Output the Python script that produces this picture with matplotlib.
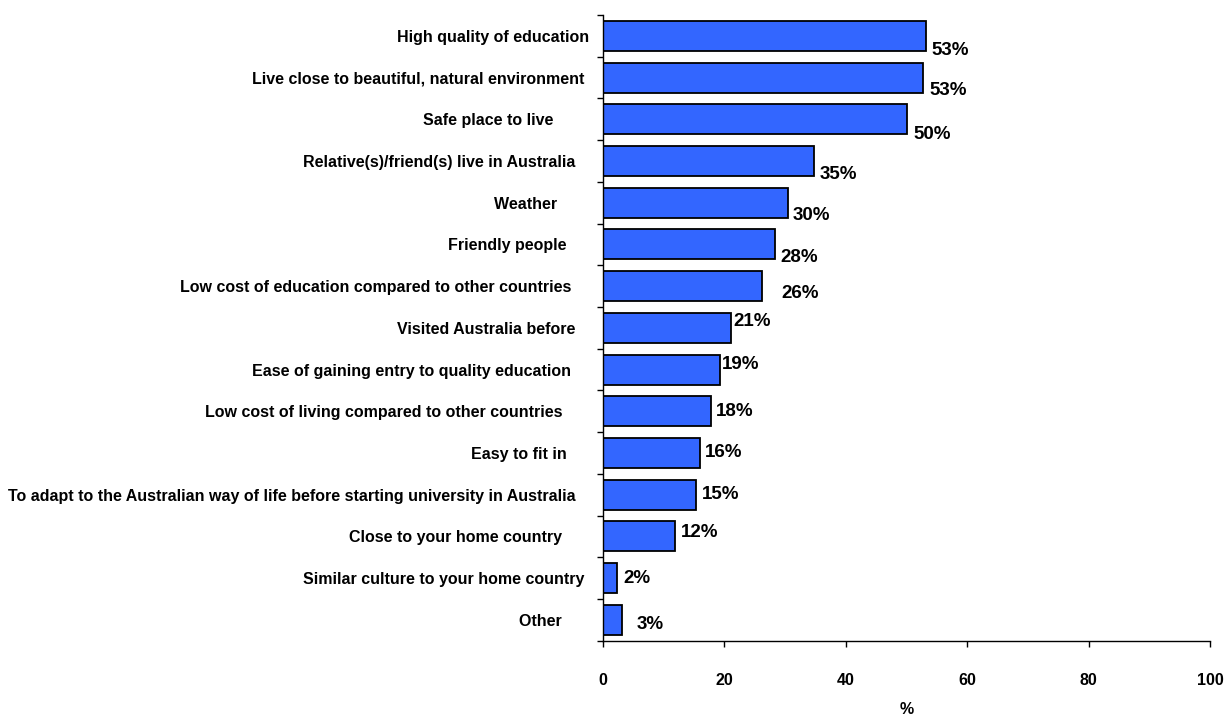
import matplotlib.pyplot as plt
import numpy as np

plt.rcParams['font.family'] = ['Liberation Sans', 'DejaVu Sans']
plt.rcParams['font.weight'] = 'bold'

# Reasons for choosing Australia (% of respondents)
# (trailing blanks kept as they came from the spreadsheet)
reasons = [
    'High quality of education',
    'Live close to beautiful, natural environment ',
    'Safe place to live        ',
    'Relative(s)/friend(s) live in Australia   ',
    'Weather       ',
    'Friendly people     ',
    'Low cost of education compared to other countries    ',
    'Visited Australia before   ',
    'Ease of gaining entry to quality education    ',
    'Low cost of living compared to other countries      ',
    'Easy to fit in     ',
    'To adapt to the Australian way of life before starting university in Australia   ',
    'Close to your home country      ',
    'Similar culture to your home country ',
    'Other      ',
]
pct = [53.2, 52.8, 50.1, 34.8, 30.4, 28.4, 26.2, 21.1, 19.2, 17.8, 15.9, 15.4, 11.8, 2.3, 3.2]

# hand placement of the value labels (points, relative to bar end)
nudge_x = [4.3, 4.3, 4.3, 4, 3.6, 3.6, 13.7, 1.5, 2, 3.6, 3.6, 3.6, 4.3, 4.3, 10]
nudge_y = [-10.4, -9.4, -10.8, -10, -9.4, -9.4, -5, 4.3, 3.6, 0, 0, 0, 2.9, 0, -3.6]

fig = plt.figure(figsize=(12.26, 7.16), dpi=100)
ax = fig.add_axes([603 / 1226, 1 - 640.7 / 716, 607 / 1226, 625.7 / 716])

y = np.arange(len(reasons))
ax.barh(y, pct, height=0.72, color='#3366FF', edgecolor='black', linewidth=1.3, zorder=2)

for i, v in enumerate(pct):
    ax.annotate(f'{round(v)}%', xy=(v, i), xytext=(nudge_x[i], nudge_y[i]),
                textcoords='offset points', ha='left', va='center',
                fontsize=13.5, fontweight='bold')

ax.set_xlim(0, 100)
ax.set_ylim(len(reasons) - 0.5, -0.5)

ax.set_yticks(y)
ax.set_yticklabels(reasons, fontsize=11.5, fontweight='bold')
ax.set_yticks(np.arange(len(reasons) + 1) - 0.5, minor=True)
ax.tick_params(axis='y', which='major', length=0, pad=10)
ax.tick_params(axis='y', which='minor', length=4, direction='out', width=1)

ax.set_xticks(np.arange(0, 101, 20))
ax.tick_params(axis='x', length=4, direction='out', width=1, pad=19.5, labelsize=11.5)
ax.set_xlabel('%', fontsize=11.5, fontweight='bold', labelpad=10)

for side in ['top', 'right']:
    ax.spines[side].set_visible(False)
for side in ['left', 'bottom']:
    ax.spines[side].set_linewidth(1)
    ax.spines[side].set_color('black')

fig.savefig('out.png', dpi=100)
